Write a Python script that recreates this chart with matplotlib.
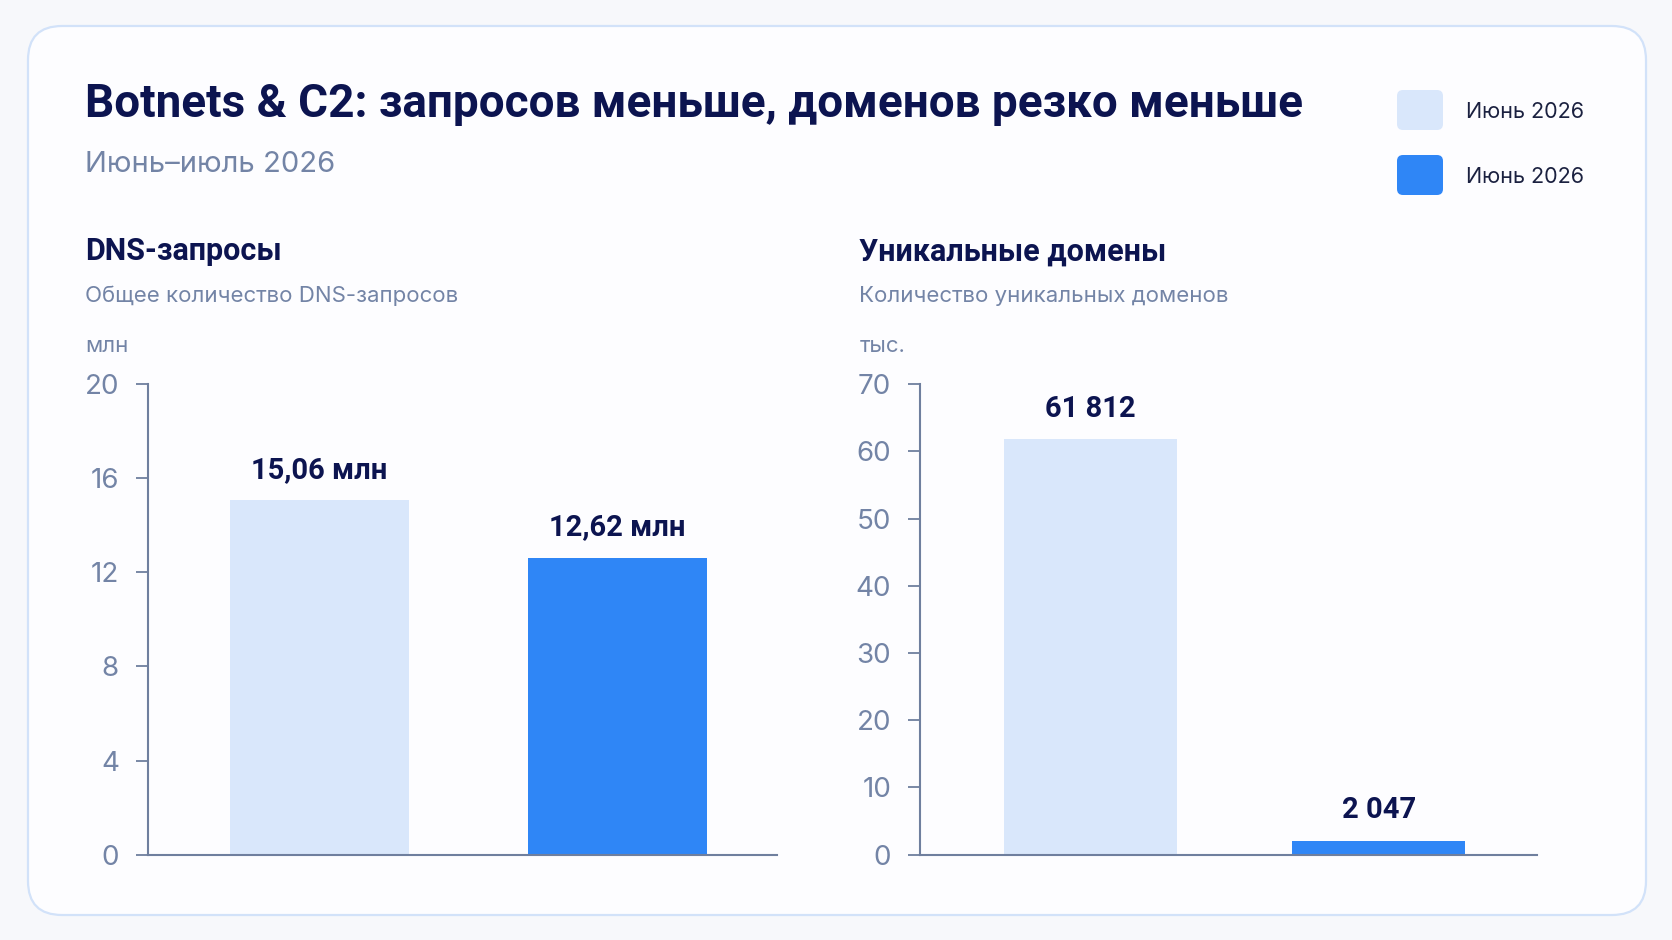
import matplotlib.pyplot as plt
from matplotlib.patches import FancyBboxPatch

plt.rcParams['font.family'] = ['Inter', 'DejaVu Sans']
BOLD = ['Roboto', 'DejaVu Sans']

# data
months = ["Июнь 2026", "Июнь 2026"]
dns_requests = [15.06, 12.62]          # млн
dns_labels = ["15,06 млн", "12,62 млн"]
unique_domains = [61812, 2047]         # штук
domain_labels = ["61 812", "2 047"]
dns_ticks = [0, 4, 8, 12, 16, 20]
domain_ticks = [0, 10, 20, 30, 40, 50, 60, 70]

bar_colors = ['#d9e7fb', '#2f86f6']
navy = '#0c1450'
muted = '#7384a6'
axis_col = '#6f7f9e'

fig = plt.figure(figsize=(16.72, 9.40), dpi=100)
fig.patch.set_facecolor('#f7f8fb')

# card background
card = FancyBboxPatch((28, 25), 1618, 889, boxstyle='round,pad=0,rounding_size=34',
                      transform=None, fc='#fdfdff', ec='#d2e2f9', lw=1.6, zorder=0)
fig.add_artist(card)

# header
fig.text(0.051, 0.876, "Botnets & C2: запросов меньше, доменов резко меньше",
         fontsize=33, fontweight='bold', family=BOLD, color=navy, va='baseline')
fig.text(0.051, 0.817, "Июнь–июль 2026", fontsize=21, color=muted, va='baseline')

# legend
leg_y = [810, 745]
leg_ty = [0.881, 0.812]
for i, name in enumerate(months):
    sq = FancyBboxPatch((1397, leg_y[i]), 46, 40, boxstyle='round,pad=0,rounding_size=6',
                        transform=None, fc=bar_colors[i], ec='none')
    fig.add_artist(sq)
    fig.text(0.877, leg_ty[i], name, fontsize=15.5, color='#1b2140', va='center')


def panel(rect, values, labels, ticks, xlim, title, sub, unit, tx):
    ax = fig.add_axes(rect)
    ax.set_facecolor('none')
    xs = range(len(values))
    ax.bar(xs, values, width=0.6, color=bar_colors, zorder=2)
    for x, v, lab in zip(xs, values, labels):
        ax.annotate(lab, (x, v), xytext=(0, 22), textcoords='offset points',
                    ha='center', va='center', fontsize=21, fontweight='bold',
                    family=BOLD, color=navy)
    ax.set_ylim(ticks[0], ticks[-1])
    ax.set_xlim(*xlim)
    ax.set_yticks(ticks)
    ax.set_xticks([])
    for s in ['top', 'right']:
        ax.spines[s].set_visible(False)
    for s in ['left', 'bottom']:
        ax.spines[s].set_color(axis_col)
        ax.spines[s].set_linewidth(1.5)
    ax.tick_params(axis='y', length=9, width=1.3, color=axis_col, labelsize=20,
                   labelcolor=muted, pad=12)
    fig.text(tx, 0.723, title, fontsize=22, fontweight='bold', family=BOLD,
             color=navy, va='baseline')
    fig.text(tx, 0.679, sub, fontsize=16, color=muted, va='baseline')
    fig.text(tx, 0.6254, unit, fontsize=16, color=muted, va='baseline')
    return ax


panel([0.0886, 0.0908, 0.3764, 0.5006], dns_requests, dns_labels, dns_ticks,
      (-0.574, 1.537), "DNS-запросы", "Общее количество DNS-запросов", "млн", 0.051)
panel([0.5504, 0.0908, 0.3686, 0.5006], [v / 1000 for v in unique_domains],
      domain_labels, domain_ticks, (-0.59, 1.547), "Уникальные домены",
      "Количество уникальных доменов", "тыс.", 0.514)

fig.savefig("out.png", dpi=100, facecolor=fig.get_facecolor())
